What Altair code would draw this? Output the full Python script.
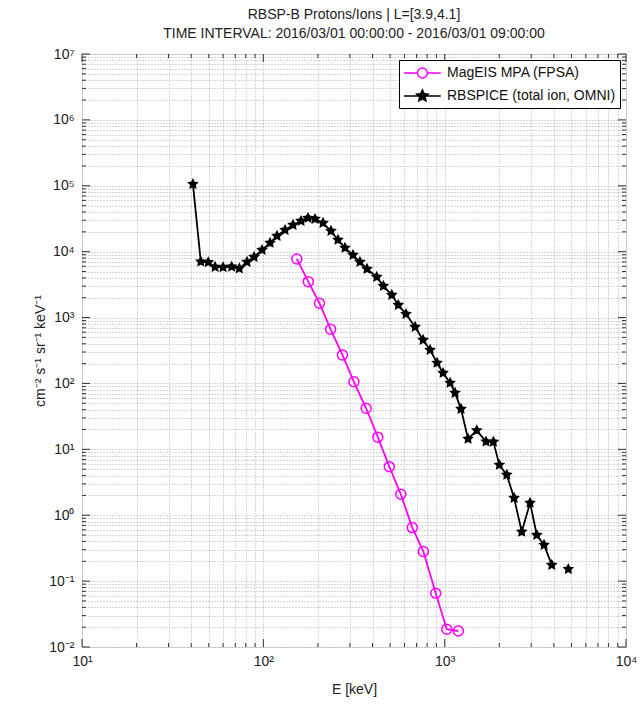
import math

import altair as alt
import pandas as pd

FONT = "Liberation Sans"
MAGENTA = "#ff00ff"

SERIES = ["MagEIS MPA (FPSA)", "RBSPICE (total ion, OMNI)"]

# MagEIS MPA (FPSA) proton spectrum: energy [keV], flux
mageis_energy = [153, 177, 204, 235, 273, 316, 369, 428, 495, 573, 663, 763, 893, 1027, 1190]
mageis_flux = [7.75e3, 3.51e3, 1.65e3, 664, 271, 106, 42, 15.3, 5.46, 2.08, 0.649, 0.281,
               0.0655, 0.0186, 0.0175]

# RBSPICE total ion (OMNI) spectrum: energy [keV], flux
rbspice_energy = [40.9, 45.2, 49.7, 54.2, 60.0, 66.9, 73.7, 81.3, 88.9, 98.4,
                  108.9, 119, 131.8, 145.8, 161.4, 176.4, 192.8, 213.4, 236, 258,
                  282, 312, 341, 373, 422, 459, 511, 555, 612, 687,
                  760, 831, 908, 980, 1072, 1141, 1231, 1346, 1503, 1691,
                  1856, 2003, 2201, 2415, 2661, 2958, 3222, 3533, 3897, 4809]
rbspice_flux = [1.06e5, 7.05e3, 6.9e3, 5.86e3, 5.8e3, 5.9e3, 5.56e3, 6.98e3, 8.3e3, 1.06e4,
                1.36e4, 1.73e4, 2.13e4, 2.54e4, 2.92e4, 3.24e4, 3.13e4, 2.73e4, 2.06e4, 1.51e4,
                1.14e4, 8.9e3, 6.98e3, 5.47e3, 4.13e3, 3.02e3, 2.2e3, 1.55e3, 1.13e3, 720,
                457, 322, 205, 144, 102, 71.8, 41, 14.4, 19.4, 13.1,
                13, 5.8, 4.1, 1.83, 0.56, 1.54, 0.50, 0.354, 0.176, 0.152]
# contiguous runs of valid channels (the last channel stands alone)
rbspice_run = [0] * 49 + [1]

# tick positions: decades and the 2..9 minors between them
x_decades = [10, 100, 1000, 10000]
y_decades = [10.0 ** k for k in range(-2, 8)]


def minors(decades):
    out = []
    for d in decades[:-1]:
        out += [d * m for m in range(2, 10)]
    return out


x_minor = minors(x_decades)
y_minor = minors(y_decades)

W, H = 544, 593

df = pd.DataFrame({
    "series": [SERIES[0]] * len(mageis_energy) + [SERIES[1]] * len(rbspice_energy),
    "E": mageis_energy + rbspice_energy,
    "F": mageis_flux + rbspice_flux,
    "run": [0] * len(mageis_energy) + rbspice_run,
})


def sup_expr():
    # "10" followed by the exponent written in superscript digits
    s = "'' + round(log(datum.value) / LN10)"
    for a, b in zip("-0123456789", "⁻⁰¹²³⁴⁵⁶⁷⁸⁹"):
        s = f"replace({s}, '{a}', '{b}')"
    return ("abs(log(datum.value) / LN10 - round(log(datum.value) / LN10)) < 1e-6 ? "
            f"'10' + {s} : ''")


x_scale = alt.Scale(type="log", domain=[10, 1e4], nice=False)
y_scale = alt.Scale(type="log", domain=[1e-2, 1e7], nice=False)

common_axis = dict(
    grid=True, gridDash=[1, 2], gridColor="#9a9a9a", gridWidth=0.8,
    ticks=False, domain=False, labelExpr=sup_expr(), labelOverlap=False,
    labelFlush=False, labelBound=False, labelFont=FONT, labelFontSize=14,
    labelColor="#222", titleFont=FONT, titleFontSize=14, titleFontWeight="normal",
    titleColor="#222",
)
x_axis = alt.Axis(values=sorted(x_decades + x_minor), title="E [keV]",
                  labelPadding=7, titlePadding=14, **common_axis)
y_axis = alt.Axis(values=sorted(y_decades + y_minor), title="cm⁻² s⁻¹ sr⁻¹ keV⁻¹",
                  labelPadding=8, titlePadding=1, **common_axis)

X = alt.X("E:Q", scale=x_scale, axis=x_axis)
Y = alt.Y("F:Q", scale=y_scale, axis=y_axis)


def star_path(r_out, r_in, cx=0.0, extra=""):
    pts = []
    for i in range(10):
        r = r_out if i % 2 == 0 else r_in
        a = -math.pi / 2 + i * math.pi / 5
        pts.append(f"{cx + r * math.cos(a):.3f},{r * math.sin(a):.3f}")
    return extra + "M" + "L".join(pts) + "Z"


STAR = star_path(1.0, 0.5)

# legend keys: a 16 px symbol box; the line segment starts at its left edge
# and runs on past it to the right, with the marker in the segment's middle
SEG_L, SEG_R = -1.0, 3.6
MID = (SEG_L + SEG_R) / 2
ring = 0.62
LEG_CIRCLE = (f"M{SEG_L},0L{MID - ring:.3f},0M{MID + ring:.3f},0L{SEG_R},0"
              f"M{MID - ring:.3f},0A{ring},{ring} 0 1 1 {MID + ring:.3f},0"
              f"A{ring},{ring} 0 1 1 {MID - ring:.3f},0Z")
LEG_STAR = star_path(0.75, 0.36, cx=MID, extra=f"M{SEG_L},0L{SEG_R},0")

mag_df = df[df.series == SERIES[0]]
rbs_df = df[df.series == SERIES[1]]

mag_line = alt.Chart(mag_df).mark_line(strokeWidth=1.8, color=MAGENTA).encode(x=X, y=Y)
rbs_line = alt.Chart(rbs_df).mark_line(strokeWidth=1.8, color="black").encode(
    x=X, y=Y, detail="run:N")

circles = alt.Chart(mag_df).mark_point(
    shape="circle", size=100, filled=False, color=MAGENTA, strokeWidth=1.5, opacity=1
).encode(x=X, y=Y)

stars = alt.Chart(rbs_df).mark_point(
    shape=STAR, size=150, filled=True, color="black", opacity=1
).encode(x=X, y=Y)

legend = alt.Legend(
    title=None, orient="top-right", offset=6,
    strokeColor="black", fillColor="white", padding=4,
    labelFont=FONT, labelFontSize=14, labelColor="#111", labelOffset=26, labelLimit=400,
    symbolSize=256, symbolStrokeWidth=1.5, symbolOpacity=1, rowPadding=6,
)
# key-only layer: carries the legend; its own marks are fully transparent
legend_keys = alt.Chart(df).mark_point(size=1, filled=True, opacity=0).encode(
    x=X, y=Y,
    shape=alt.Shape("series:N", scale=alt.Scale(domain=SERIES, range=[LEG_CIRCLE, LEG_STAR]),
                    legend=legend),
    stroke=alt.Stroke("series:N", scale=alt.Scale(domain=SERIES, range=[MAGENTA, "black"]),
                      legend=legend),
    fill=alt.Fill("series:N", scale=alt.Scale(domain=SERIES, range=["transparent", "black"]),
                  legend=legend),
)


def tick_layer(values, axis_ch, length, side):
    t = alt.Chart(pd.DataFrame({"v": values})).mark_rule(color="#333", strokeWidth=1)
    if axis_ch == "x":
        enc = dict(x=alt.X("v:Q", scale=x_scale, axis=x_axis))
        if side == "bottom":
            enc.update(y=alt.value(H), y2=alt.value(H - length))
        else:
            enc.update(y=alt.value(0), y2=alt.value(length))
    else:
        enc = dict(y=alt.Y("v:Q", scale=y_scale, axis=y_axis))
        if side == "left":
            enc.update(x=alt.value(0), x2=alt.value(length))
        else:
            enc.update(x=alt.value(W), x2=alt.value(W - length))
    return t.encode(**enc)


ticks = [
    tick_layer(x_decades, "x", 8, "bottom"), tick_layer(x_minor, "x", 4, "bottom"),
    tick_layer(x_decades, "x", 8, "top"), tick_layer(x_minor, "x", 4, "top"),
    tick_layer(y_decades, "y", 8, "left"), tick_layer(y_minor, "y", 4, "left"),
    tick_layer(y_decades, "y", 8, "right"), tick_layer(y_minor, "y", 4, "right"),
]

chart = alt.layer(
    mag_line, rbs_line, circles, stars, legend_keys, *ticks
).properties(
    width=W, height=H,
    title=alt.TitleParams(
        text=["RBSP-B Protons/Ions | L=[3.9,4.1]",
              "TIME INTERVAL: 2016/03/01 00:00:00 - 2016/03/01 09:00:00"],
        font=FONT, fontSize=14, fontWeight="normal", color="#222",
        anchor="middle", offset=6, lineHeight=19,
    ),
    padding={"left": 82, "top": 54, "right": 17, "bottom": 57},
    autosize=alt.AutoSizeParams(type="none"),
).configure_view(stroke="#333", strokeWidth=1.2).configure(background="white")

chart.save("out.html", embed_options={"renderer": "svg", "actions": False})
